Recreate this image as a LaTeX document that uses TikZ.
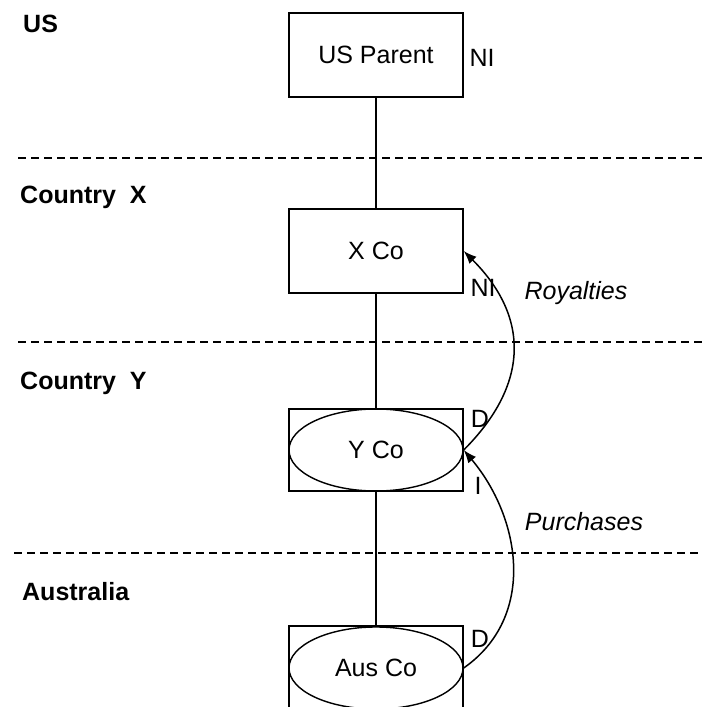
\documentclass[tikz,border=0pt]{standalone}
\usepackage{fontspec}
\setmainfont{Liberation Sans}
\usetikzlibrary{shapes.geometric, arrows.meta}
\tikzstyle{payment} = [draw=black, line width=1.5pt, -{Latex[length=13pt,width=10pt]}]
\tikzstyle{entity} = [rectangle, minimum width=174pt, minimum height=84pt, draw=black, line width=1.4pt, inner sep=0pt]
\tikzstyle{hybrid} = [ellipse, minimum width=174pt, minimum height=82pt, draw=black, line width=1.4pt, inner sep=0pt]
\tikzstyle{border} = [line width=1.2pt, dash pattern=on 8pt off 5pt]
\tikzstyle{country} = [anchor=west, font=\fontsize{25}{30}\selectfont\bfseries, inner sep=0pt]
\tikzstyle{status} = [inner sep=0pt]

\begin{document}
\begin{tikzpicture}[x=1pt, y=-1pt, font=\fontsize{25}{30}\selectfont, node distance=196pt]
		\clip (0,0) rectangle (702,707);
		% companies
		\node (uspar) [entity] at (376,55) {US Parent};
		\node (xco) [entity, below of=uspar] {X Co};
		\node (ycobox) [entity, minimum height=82pt, below of=xco, yshift=-3pt] {};
		\node (yco) [hybrid] at (ycobox.center) {Y Co};
		\node (ausbox) [entity, below of=ycobox, yshift=-22pt] {};
		\node (aus) [hybrid] at (ausbox.center) {Aus Co};
		% ownership chain
		\draw [line width=1.3pt] (uspar) -- (xco);
		\draw [line width=1.3pt] (xco) -- (ycobox);
		\draw [line width=1.3pt] (ycobox) -- (ausbox);
		% country borders
		\coordinate (b1w) at (18,158); \coordinate (b1e) at (702,158);
		\coordinate (b2w) at (18,342); \coordinate (b2e) at (702,342);
		\coordinate (b3w) at (14,553); \coordinate (b3e) at (702,553);
		\draw [border] (b1w) -- (b1e);
		\draw [border] (b2w) -- (b2e);
		\draw [border] (b3w) -- (b3e);
		\node (lus) [country] at (23,24) {US};
		\node (lx) [country] at (20,197) {Country\ \ X};
		\node (ly) [country] at (20,383) {Country\ \ Y};
		\node (lau) [country] at (22,592) {Australia};
		% tax status
		\node (sus) [status] at (482,58) {NI};
		\node (sx) [status] at (483,288) {NI};
		\node (syd) [status] at (480,419) {D};
		\node (syi) [status] at (478,486) {I};
		\node (sau) [status] at (480,639) {D};
		% payments
		\draw [payment] (yco.east) to[out=45, in=-45, looseness=1.2] (xco.east);
		\draw [payment] (aus.east) to[out=35, in=-50, looseness=1.05] (yco.east);
		\node (roy) [status, font=\fontsize{25}{30}\selectfont\itshape] at (576,293) {Royalties};
		\node (pur) [status, font=\fontsize{25}{30}\selectfont\itshape] at (584,522) {Purchases};
	\end{tikzpicture}
\end{document}
